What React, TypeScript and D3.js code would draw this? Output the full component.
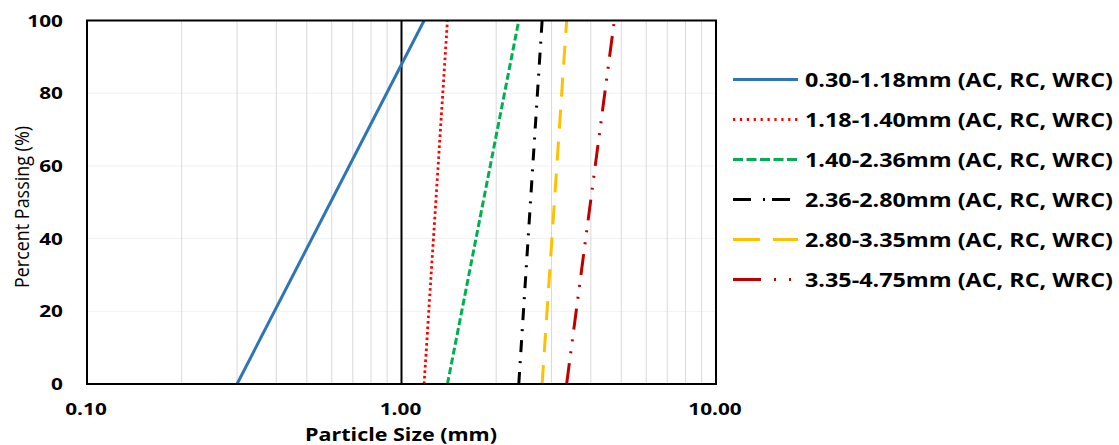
import React from 'react';
import * as d3 from 'd3';

// ---- Data ----
const seriesNames: string[] = [
  '0.30-1.18mm (AC, RC, WRC)',
  '1.18-1.40mm (AC, RC, WRC)',
  '1.40-2.36mm (AC, RC, WRC)',
  '2.36-2.80mm (AC, RC, WRC)',
  '2.80-3.35mm (AC, RC, WRC)',
  '3.35-4.75mm (AC, RC, WRC)',
];
// particle size (mm) at 0% passing and at 100% passing
const sizeAtZero: number[] = [0.3, 1.18, 1.4, 2.36, 2.8, 3.35];
const sizeAtHundred: number[] = [1.18, 1.4, 2.36, 2.8, 3.35, 4.75];
const passingValues: number[] = [0, 100];

const yTicks: number[] = [0, 20, 40, 60, 80, 100];
const xTickValues: number[] = [0.1, 1, 10];
const xTickLabels: string[] = ['0.10', '1.00', '10.00'];

// ---- Styles ----
const colors = ['#2E75B6', '#FF0000', '#00B050', '#000000', '#FFC000', '#C00000'];
const dashChart = ['', '2.6 2.9', '7 3', '12 9 2 9', '19 13', '21 10 2 10 2 10'];
const dashLegend = ['', '2.2 4.7', '10 3.5', '18 12 2 7', '27 13', '28 13 2 13 2 20'];
const widths = [3, 2.8, 3, 3, 3, 3];

const W = 1119;
const H = 445;
const left = 87;
const right = 716;
const top = 20.5;
const bottom = 384;

export default function App() {
  const x = d3.scaleLog().domain([0.1, 10]).range([left, right]);
  const y = d3.scaleLinear().domain([0, 100]).range([bottom, top]);
  const line = d3
    .line<{ s: number; p: number }>()
    .x((d) => x(d.s))
    .y((d) => y(d.p));

  const minorTicks = x.ticks().filter((t) => !xTickValues.some((v) => Math.abs(v - t) < 1e-9));

  const font = "'Open Sans', 'DejaVu Sans', sans-serif";

  return (
    <svg
      width={W}
      height={H}
      style={{ position: 'absolute', left: 0, top: 0, background: '#fff' }}
      fontFamily={font}
    >
      <rect x={0} y={0} width={W} height={H} fill="#fff" />
      {/* horizontal gridlines */}
      {yTicks.slice(1, -1).map((t) => (
        <line key={'h' + t} x1={left} x2={right} y1={y(t)} y2={y(t)} stroke="#f0f0f0" strokeWidth={1} />
      ))}
      {/* minor vertical gridlines */}
      {minorTicks.map((t) => (
        <line key={'v' + t} x1={x(t)} x2={x(t)} y1={top} y2={bottom} stroke="#d9d9d9" strokeWidth={1} />
      ))}
      {/* major gridline at 1.0 */}
      <line x1={x(1)} x2={x(1)} y1={top} y2={bottom} stroke="#000" strokeWidth={2} />

      {/* series */}
      {seriesNames.map((name, i) => {
        const pts = [
          { s: sizeAtZero[i], p: passingValues[0] },
          { s: sizeAtHundred[i], p: passingValues[1] },
        ];
        return (
          <path
            key={name}
            d={line(pts) || ''}
            fill="none"
            stroke={colors[i]}
            strokeWidth={widths[i]}
            strokeDasharray={dashChart[i] || undefined}
          />
        );
      })}

      {/* plot border */}
      <rect x={left} y={top} width={right - left} height={bottom - top} fill="none" stroke="#000" strokeWidth={2} />

      {/* y tick labels */}
      {yTicks.map((t) => (
        <text
          key={'yt' + t}
          transform={`translate(63,${y(t) + 6}) scale(1.3,1)`}
          textAnchor="end"
          fontSize={16}
          fontWeight={700}
          fill="#000"
        >
          {t}
        </text>
      ))}

      {/* x tick labels */}
      {xTickValues.map((v, i) => (
        <text
          key={'xt' + v}
          transform={`translate(${x(v) - 1},415) scale(1.3,1)`}
          textAnchor="middle"
          fontSize={16}
          fontWeight={700}
          fill="#000"
        >
          {xTickLabels[i]}
        </text>
      ))}

      {/* axis titles */}
      <text
        transform="translate(28.5,207) scale(1.3,1) rotate(-90)"
        textAnchor="middle"
        fontSize={16}
        fill="#000"
        textLength={162}
        lengthAdjust="spacingAndGlyphs"
      >
        Percent Passing (%)
      </text>
      <text
        x={401}
        y={441}
        textAnchor="middle"
        fontSize={17}
        fontWeight={700}
        fill="#000"
        textLength={192}
        lengthAdjust="spacingAndGlyphs"
      >
        Particle Size (mm)
      </text>

      {/* legend */}
      {seriesNames.map((name, i) => {
        const ly = 79.5 + i * 40;
        return (
          <g key={'lg' + i}>
            <line
              x1={733}
              x2={798}
              y1={ly}
              y2={ly}
              stroke={colors[i]}
              strokeWidth={widths[i]}
              strokeDasharray={dashLegend[i] || undefined}
            />
            <text
              x={805}
              y={ly + 7}
              fontSize={19}
              fontWeight={700}
              fill="#000"
              textLength={308}
              lengthAdjust="spacingAndGlyphs"
            >
              {name}
            </text>
          </g>
        );
      })}
    </svg>
  );
}
